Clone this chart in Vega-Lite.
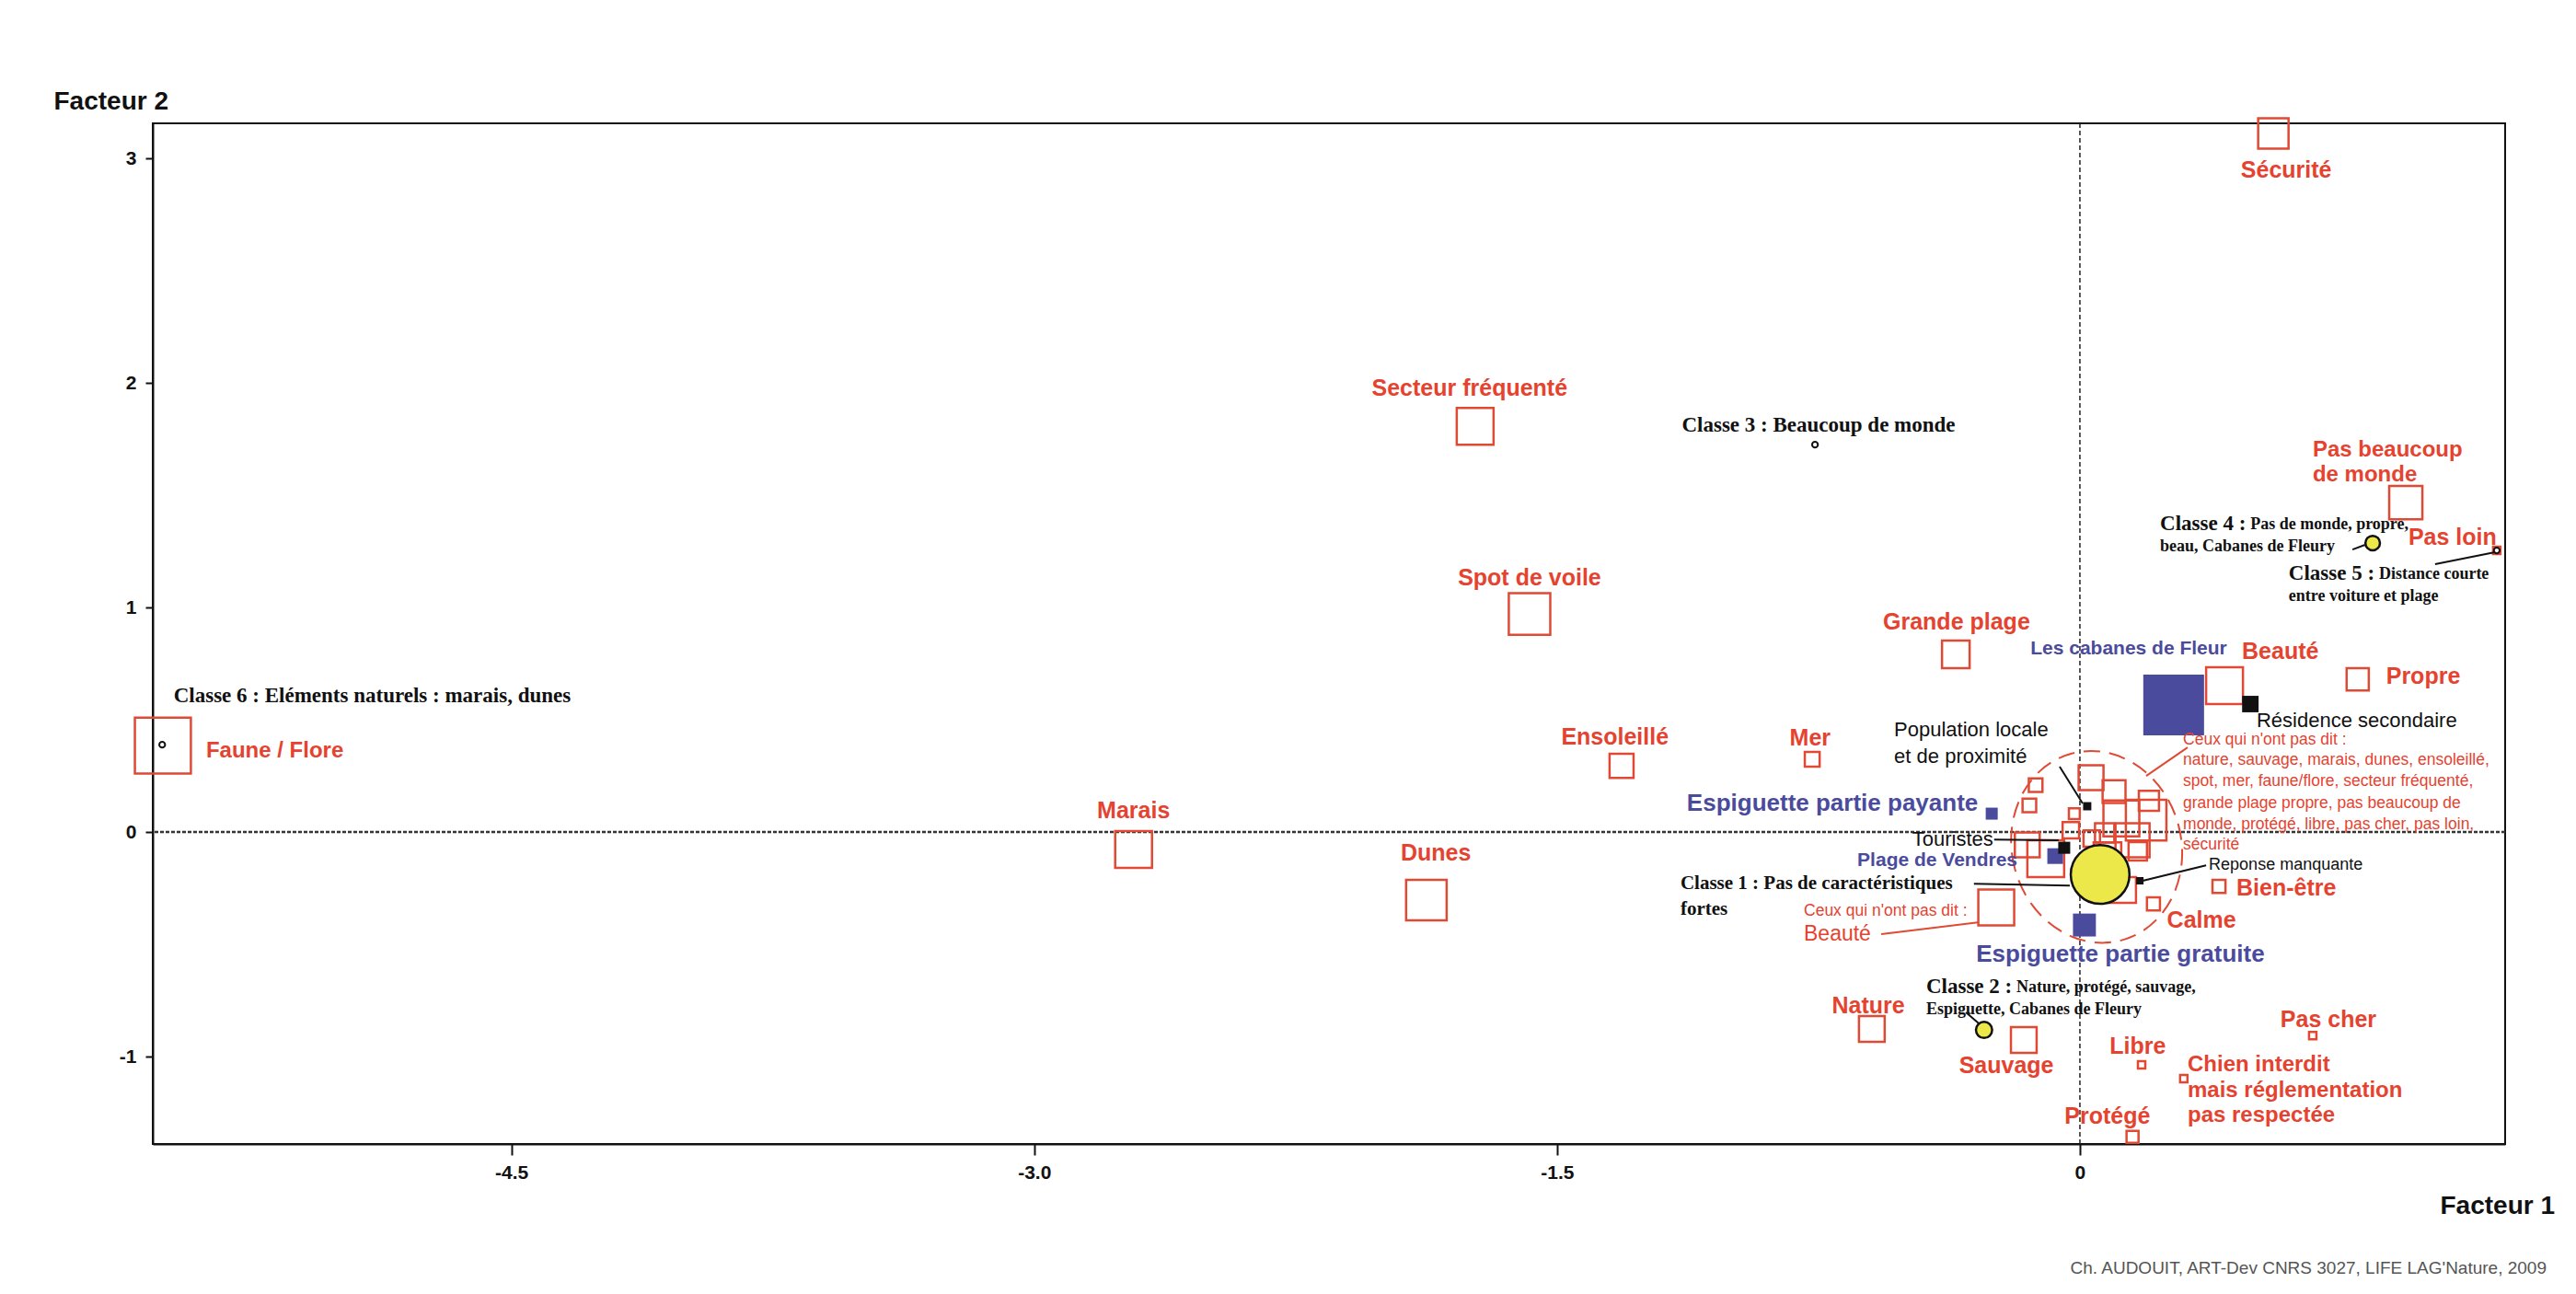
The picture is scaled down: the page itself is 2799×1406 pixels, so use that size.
{
  "$schema": "https://vega.github.io/schema/vega-lite/v6.json",
  "width": 2556,
  "height": 1109,
  "autosize": {"type": "none"},
  "padding": {"left": 166, "top": 134, "right": 77, "bottom": 163},
  "background": "white",
  "title": {"text": "Ch. AUDOUIT, ART-Dev CNRS 3027, LIFE LAG'Nature, 2009", "orient": "bottom", "anchor": "end", "frame": "group", "font": "Liberation Sans", "fontSize": 19, "fontWeight": "normal", "color": "#555555", "dx": 45, "offset": 45},
  "config": {
    "view": {"stroke": "#111111", "strokeWidth": 2},
    "axis": {"grid": false, "domainColor": "#111111", "domainWidth": 2, "tickColor": "#111111", "tickWidth": 2, "labelColor": "#111111", "labelFont": "Liberation Sans", "labelFontWeight": "bold", "labelFontSize": 21, "titleColor": "#111111", "titleFont": "Liberation Sans", "titleFontWeight": "bold", "titleFontSize": 28}
  },
  "datasets": {
    "points": [
      {"nom": "Sécurité", "type": "modalite", "x": 0.555, "y": 3.111, "masse": 109},
      {"nom": "Secteur fréquenté", "type": "modalite", "x": -1.735, "y": 1.807, "masse": 160},
      {"nom": "Spot de voile", "type": "modalite", "x": -1.579, "y": 0.971, "masse": 203},
      {"nom": "Grande plage", "type": "modalite", "x": -0.356, "y": 0.791, "masse": 90},
      {"nom": "Faune / Flore", "type": "modalite", "x": -5.5, "y": 0.385, "masse": 370},
      {"nom": "Ensoleillé", "type": "modalite", "x": -1.315, "y": 0.295, "masse": 68},
      {"nom": "Mer", "type": "modalite", "x": -0.768, "y": 0.324, "masse": 26},
      {"nom": "Marais", "type": "modalite", "x": -2.715, "y": -0.078, "masse": 160},
      {"nom": "Dunes", "type": "modalite", "x": -1.875, "y": -0.303, "masse": 194},
      {"nom": "Beauté", "type": "modalite", "x": 0.415, "y": 0.652, "masse": 160},
      {"nom": "Propre", "type": "modalite", "x": 0.797, "y": 0.68, "masse": 58},
      {"nom": "Pas beaucoup de monde", "type": "modalite", "x": 0.935, "y": 1.467, "masse": 130},
      {"nom": "Pas loin", "type": "modalite", "x": 1.196, "y": 1.254, "masse": 6.4},
      {"nom": "Bien-être", "type": "modalite", "x": 0.399, "y": -0.242, "masse": 20},
      {"nom": "Calme", "type": "modalite", "x": 0.211, "y": -0.32, "masse": 20},
      {"nom": "Nature", "type": "modalite", "x": -0.597, "y": -0.877, "masse": 78},
      {"nom": "Sauvage", "type": "modalite", "x": -0.161, "y": -0.926, "masse": 78},
      {"nom": "Libre", "type": "modalite", "x": 0.177, "y": -1.037, "masse": 6.4},
      {"nom": "Pas cher", "type": "modalite", "x": 0.668, "y": -0.906, "masse": 6.4},
      {"nom": "Chien interdit mais réglementation pas respectée", "type": "modalite", "x": 0.298, "y": -1.098, "masse": 6.4},
      {"nom": "Protégé", "type": "modalite", "x": 0.151, "y": -1.357, "masse": 17},
      {"nom": "Non dit : beauté", "type": "modalite", "x": -0.24, "y": -0.336, "masse": 152},
      {"nom": "Non dit : nature", "type": "modalite", "x": 0.032, "y": 0.242, "masse": 73},
      {"nom": "Non dit : sauvage", "type": "modalite", "x": 0.098, "y": 0.18, "masse": 62},
      {"nom": "Non dit : marais", "type": "modalite", "x": 0.119, "y": 0.061, "masse": 152},
      {"nom": "Non dit : dunes", "type": "modalite", "x": 0.19, "y": 0.053, "masse": 194},
      {"nom": "Non dit : ensoleillé", "type": "modalite", "x": 0.151, "y": -0.037, "masse": 137},
      {"nom": "Non dit : spot", "type": "modalite", "x": 0.166, "y": -0.086, "masse": 40},
      {"nom": "Non dit : mer", "type": "modalite", "x": 0.071, "y": -0.004, "masse": 44},
      {"nom": "Non dit : faune/flore", "type": "modalite", "x": -0.016, "y": 0.082, "masse": 14},
      {"nom": "Non dit : secteur fréquenté", "type": "modalite", "x": -0.145, "y": 0.119, "masse": 22},
      {"nom": "Non dit : grande plage", "type": "modalite", "x": -0.127, "y": 0.209, "masse": 22},
      {"nom": "Non dit : propre", "type": "modalite", "x": -0.151, "y": -0.057, "masse": 73},
      {"nom": "Non dit : pas beaucoup de monde", "type": "modalite", "x": -0.098, "y": -0.119, "masse": 160},
      {"nom": "Non dit : protégé", "type": "modalite", "x": -0.026, "y": 0.008, "masse": 32},
      {"nom": "Non dit : libre", "type": "modalite", "x": 0.124, "y": -0.258, "masse": 78},
      {"nom": "Non dit : pas cher", "type": "modalite", "x": 0.034, "y": -0.029, "masse": 32},
      {"nom": "Non dit : pas loin", "type": "modalite", "x": 0.079, "y": -0.107, "masse": 90},
      {"nom": "Non dit : sécurité", "type": "modalite", "x": 0.198, "y": 0.139, "masse": 48},
      {"nom": "Les cabanes de Fleury", "type": "site", "x": 0.269, "y": 0.566, "masse": 436},
      {"nom": "Espiguette partie payante", "type": "site", "x": -0.253, "y": 0.082, "masse": 17},
      {"nom": "Plage de Vendres", "type": "site", "x": -0.071, "y": -0.107, "masse": 29},
      {"nom": "Espiguette partie gratuite", "type": "site", "x": 0.013, "y": -0.414, "masse": 62},
      {"nom": "Résidence secondaire", "type": "profil", "x": 0.489, "y": 0.57, "masse": 32},
      {"nom": "Population locale et de proximité", "type": "profil", "x": 0.021, "y": 0.115, "masse": 8},
      {"nom": "Touristes", "type": "profil", "x": -0.045, "y": -0.07, "masse": 17},
      {"nom": "Réponse manquante", "type": "profil", "x": 0.172, "y": -0.217, "masse": 6.4},
      {"nom": "Classe 1", "type": "classe", "x": 0.058, "y": -0.189, "masse": 407},
      {"nom": "Classe 2", "type": "classe", "x": -0.275, "y": -0.881, "masse": 31},
      {"nom": "Classe 4", "type": "classe", "x": 0.84, "y": 1.287, "masse": 25},
      {"nom": "Classe 3", "type": "petite_classe", "x": -0.76, "y": 1.725, "masse": 4},
      {"nom": "Classe 5", "type": "petite_classe", "x": 1.196, "y": 1.254, "masse": 4},
      {"nom": "Classe 6", "type": "petite_classe", "x": -5.502, "y": 0.389, "masse": 4}
    ],
    "ellipse": [{"nom": "Groupe des non-réponses", "x": 0.048, "y": -0.066}],
    "renvois": [
      {"couleur": "noir", "x": -0.304, "y": -0.23, "x2": -0.029, "y2": -0.238},
      {"couleur": "noir", "x": -0.246, "y": -0.033, "x2": -0.061, "y2": -0.037},
      {"couleur": "noir", "x": -0.058, "y": 0.291, "x2": 0.008, "y2": 0.127},
      {"couleur": "noir", "x": 0.18, "y": -0.217, "x2": 0.362, "y2": -0.148},
      {"couleur": "noir", "x": 1.019, "y": 1.193, "x2": 1.191, "y2": 1.246},
      {"couleur": "noir", "x": 0.782, "y": 1.258, "x2": 0.818, "y2": 1.279},
      {"couleur": "noir", "x": -0.327, "y": -0.803, "x2": -0.29, "y2": -0.852},
      {"couleur": "rouge", "x": -0.57, "y": -0.455, "x2": -0.293, "y2": -0.402},
      {"couleur": "rouge", "x": 0.19, "y": 0.25, "x2": 0.309, "y2": 0.377}
    ],
    "etiquettes": [
      {"style": "rouge_c", "texte": "Sécurité", "x": 0.592, "y": 2.947},
      {"style": "rouge_c", "texte": "Secteur fréquenté", "x": -1.751, "y": 1.975},
      {"style": "rouge_c", "texte": "Spot de voile", "x": -1.579, "y": 1.131},
      {"style": "rouge_c", "texte": "Grande plage", "x": -0.354, "y": 0.934},
      {"style": "rouge_c", "texte": "Ensoleillé", "x": -1.334, "y": 0.422},
      {"style": "rouge_c", "texte": "Mer", "x": -0.774, "y": 0.418},
      {"style": "rouge_c", "texte": "Marais", "x": -2.715, "y": 0.094},
      {"style": "rouge_c", "texte": "Dunes", "x": -1.848, "y": -0.094},
      {"style": "rouge_c", "texte": "Beauté", "x": 0.575, "y": 0.803},
      {"style": "rouge_c", "texte": "Propre", "x": 0.985, "y": 0.693},
      {"style": "rouge_c", "texte": "Pas loin", "x": 1.069, "y": 1.311},
      {"style": "rouge_c", "texte": "Bien-être", "x": 0.592, "y": -0.25},
      {"style": "rouge_c", "texte": "Calme", "x": 0.349, "y": -0.393},
      {"style": "rouge_c", "texte": "Nature", "x": -0.607, "y": -0.775},
      {"style": "rouge_c", "texte": "Sauvage", "x": -0.211, "y": -1.041},
      {"style": "rouge_c", "texte": "Libre", "x": 0.166, "y": -0.955},
      {"style": "rouge_c", "texte": "Pas cher", "x": 0.713, "y": -0.836},
      {"style": "rouge_c", "texte": "Protégé", "x": 0.079, "y": -1.266},
      {"style": "rouge_g", "texte": "Faune / Flore", "x": -5.376, "y": 0.361},
      {"style": "rouge_g", "texte": "Pas beaucoup", "x": 0.668, "y": 1.701},
      {"style": "rouge_g", "texte": "de monde", "x": 0.668, "y": 1.59},
      {"style": "rouge_g", "texte": "Chien interdit", "x": 0.309, "y": -1.037},
      {"style": "rouge_g", "texte": "mais réglementation", "x": 0.309, "y": -1.152},
      {"style": "rouge_g", "texte": "pas respectée", "x": 0.309, "y": -1.262},
      {"style": "bleu_p", "texte": "Les cabanes de Fleur", "x": 0.14, "y": 0.816},
      {"style": "bleu_c", "texte": "Espiguette partie payante", "x": -0.71, "y": 0.127},
      {"style": "bleu_p", "texte": "Plage de Vendres", "x": -0.409, "y": -0.127},
      {"style": "bleu_c", "texte": "Espiguette partie gratuite", "x": 0.116, "y": -0.545},
      {"style": "noir_g", "texte": "Population locale", "x": -0.533, "y": 0.455},
      {"style": "noir_g", "texte": "et de proximité", "x": -0.533, "y": 0.336},
      {"style": "noir_g", "texte": "Touristes", "x": -0.481, "y": -0.033},
      {"style": "noir_g", "texte": "Résidence secondaire", "x": 0.507, "y": 0.496},
      {"style": "noir_etroit", "texte": "Reponse manquante", "x": 0.37, "y": -0.148},
      {"style": "classe_g", "texte": "Classe 3 : Beaucoup de monde", "x": -1.142, "y": 1.811},
      {"style": "classe_g", "texte": "Classe 6 : Eléments naturels : marais, dunes", "x": -5.469, "y": 0.607},
      {"style": "classe_m", "texte": "Classe 1 : Pas de caractéristiques", "x": -1.146, "y": -0.23},
      {"style": "classe_m", "texte": "fortes", "x": -1.146, "y": -0.344},
      {"style": "classe_g", "texte": "Classe 4 :", "x": 0.23, "y": 1.373},
      {"style": "classe_g", "texte": "Classe 5 :", "x": 0.599, "y": 1.152},
      {"style": "classe_g", "texte": "Classe 2 :", "x": -0.441, "y": -0.689},
      {"style": "classe_p", "texte": "Pas de monde, propre,", "x": 0.489, "y": 1.369},
      {"style": "classe_p", "texte": "beau, Cabanes de Fleury", "x": 0.23, "y": 1.27},
      {"style": "classe_p", "texte": "Distance courte", "x": 0.858, "y": 1.148},
      {"style": "classe_p", "texte": "entre voiture et plage", "x": 0.599, "y": 1.049},
      {"style": "classe_p", "texte": "Nature, protégé, sauvage,", "x": -0.182, "y": -0.693},
      {"style": "classe_p", "texte": "Espiguette, Cabanes de Fleury", "x": -0.441, "y": -0.791},
      {"style": "nr", "texte": "Ceux qui n'ont pas dit :", "x": 0.296, "y": 0.41},
      {"style": "nr", "texte": "nature, sauvage, marais, dunes, ensoleillé,", "x": 0.296, "y": 0.32},
      {"style": "nr", "texte": "spot, mer, faune/flore, secteur fréquenté,", "x": 0.296, "y": 0.225},
      {"style": "nr", "texte": "grande plage propre, pas beaucoup de", "x": 0.296, "y": 0.127},
      {"style": "nr", "texte": "monde, protégé, libre, pas cher, pas loin,", "x": 0.296, "y": 0.033},
      {"style": "nr", "texte": "sécurité", "x": 0.296, "y": -0.057},
      {"style": "nr", "texte": "Ceux qui n'ont pas dit :", "x": -0.792, "y": -0.352},
      {"style": "nr_b", "texte": "Beauté", "x": -0.792, "y": -0.455}
    ]
  },
  "layer": [
    {
      "data": {"values": [{}]},
      "mark": {"type": "rule", "stroke": "#222222", "strokeWidth": 1.5, "strokeDash": [5, 3]},
      "encoding": {
        "x": {"datum": 0, "type": "quantitative", "scale": {"domain": [-5.529, 1.22], "nice": false, "zero": false},
          "axis": {"title": "Facteur 1", "values": [-4.5, -3, -1.5, 0], "labelExpr": "datum.value === 0 ? '0' : '-' + format(abs(datum.value), '.1f')", "tickSize": 12, "labelPadding": 8, "titleX": 2485, "titleY": 67, "titleAlign": "left", "titleBaseline": "middle", "titleAnchor": null}}
      }
    },
    {
      "data": {"values": [{}]},
      "mark": {"type": "rule", "stroke": "#333333", "strokeWidth": 2.5, "strokeDash": [4, 2]},
      "encoding": {
        "y": {"datum": 0, "type": "quantitative", "scale": {"domain": [-1.389, 3.156], "nice": false, "zero": false},
          "axis": {"title": "Facteur 2", "values": [-1, 0, 1, 2, 3], "labelExpr": "datum.value < 0 ? '-' + format(abs(datum.value), 'd') : format(datum.value, 'd')", "tickSize": 8, "labelPadding": 10, "titleAngle": 0, "titleX": -108, "titleY": -24, "titleAlign": "left", "titleBaseline": "middle", "titleAnchor": null}}
      }
    },
    {
      "data": {"name": "points"},
      "transform": [{"filter": "datum.type === 'modalite'"}],
      "mark": {"type": "point", "shape": "square", "filled": false, "stroke": "#E04A35", "strokeWidth": 2.5, "opacity": 1},
      "encoding": {
        "x": {"field": "x", "type": "quantitative"},
        "y": {"field": "y", "type": "quantitative"},
        "size": {"field": "masse", "type": "quantitative", "scale": {"type": "linear", "domain": [0, 500], "range": [0, 5000]}, "legend": null}
      }
    },
    {
      "data": {"name": "ellipse"},
      "mark": {"type": "point", "shape": "M -0.876 0 C -0.876 -0.552 -0.484 -1 0 -1 C 0.484 -1 0.876 -0.552 0.876 0 C 0.876 0.552 0.484 1 0 1 C -0.484 1 -0.876 0.552 -0.876 0 Z", "filled": false, "stroke": "#E04A35", "strokeWidth": 2, "strokeDash": [18, 10], "size": 44100, "angle": 345, "opacity": 1},
      "encoding": {
        "x": {"field": "x", "type": "quantitative"},
        "y": {"field": "y", "type": "quantitative"}
      }
    },
    {
      "data": {"name": "points"},
      "transform": [{"filter": "datum.type === 'site'"}],
      "mark": {"type": "point", "shape": "square", "filled": true, "fill": "#4B4B9D", "opacity": 1},
      "encoding": {
        "x": {"field": "x", "type": "quantitative"},
        "y": {"field": "y", "type": "quantitative"},
        "size": {"field": "masse", "type": "quantitative", "legend": null}
      }
    },
    {
      "data": {"name": "points"},
      "transform": [{"filter": "datum.type === 'profil'"}],
      "mark": {"type": "point", "shape": "square", "filled": true, "fill": "#111111", "opacity": 1},
      "encoding": {
        "x": {"field": "x", "type": "quantitative"},
        "y": {"field": "y", "type": "quantitative"},
        "size": {"field": "masse", "type": "quantitative", "legend": null}
      }
    },
    {
      "data": {"name": "points"},
      "transform": [{"filter": "datum.type === 'classe'"}],
      "mark": {"type": "point", "shape": "circle", "filled": true, "fill": "#EDE84A", "stroke": "#111111", "strokeWidth": 2.5, "opacity": 1},
      "encoding": {
        "x": {"field": "x", "type": "quantitative"},
        "y": {"field": "y", "type": "quantitative"},
        "size": {"field": "masse", "type": "quantitative", "legend": null}
      }
    },
    {
      "data": {"name": "points"},
      "transform": [{"filter": "datum.type === 'petite_classe'"}],
      "mark": {"type": "point", "shape": "circle", "filled": true, "fill": "#ffffff", "stroke": "#111111", "strokeWidth": 2, "opacity": 1},
      "encoding": {
        "x": {"field": "x", "type": "quantitative"},
        "y": {"field": "y", "type": "quantitative"},
        "size": {"field": "masse", "type": "quantitative", "legend": null}
      }
    },
    {
      "data": {"name": "renvois"},
      "transform": [{"filter": "datum.couleur === 'noir'"}],
      "mark": {"type": "rule", "stroke": "#111111", "strokeWidth": 2},
      "encoding": {
        "x": {"field": "x", "type": "quantitative"},
        "y": {"field": "y", "type": "quantitative"},
        "x2": {"field": "x2"},
        "y2": {"field": "y2"}
      }
    },
    {
      "data": {"name": "renvois"},
      "transform": [{"filter": "datum.couleur === 'rouge'"}],
      "mark": {"type": "rule", "stroke": "#E04A35", "strokeWidth": 2},
      "encoding": {
        "x": {"field": "x", "type": "quantitative"},
        "y": {"field": "y", "type": "quantitative"},
        "x2": {"field": "x2"},
        "y2": {"field": "y2"}
      }
    },
    {
      "data": {"name": "etiquettes"},
      "transform": [{"filter": "datum.style === 'rouge_c'"}],
      "mark": {"type": "text", "font": "Liberation Sans", "fontWeight": "bold", "fontSize": 25, "fill": "#E5432F", "align": "center", "baseline": "middle"},
      "encoding": {"x": {"field": "x", "type": "quantitative"}, "y": {"field": "y", "type": "quantitative"}, "text": {"field": "texte"}}
    },
    {
      "data": {"name": "etiquettes"},
      "transform": [{"filter": "datum.style === 'rouge_g'"}],
      "mark": {"type": "text", "font": "Liberation Sans", "fontWeight": "bold", "fontSize": 24, "fill": "#E5432F", "align": "left", "baseline": "middle"},
      "encoding": {"x": {"field": "x", "type": "quantitative"}, "y": {"field": "y", "type": "quantitative"}, "text": {"field": "texte"}}
    },
    {
      "data": {"name": "etiquettes"},
      "transform": [{"filter": "datum.style === 'bleu_c'"}],
      "mark": {"type": "text", "font": "Liberation Sans", "fontWeight": "bold", "fontSize": 26, "fill": "#4B4B9D", "align": "center", "baseline": "middle"},
      "encoding": {"x": {"field": "x", "type": "quantitative"}, "y": {"field": "y", "type": "quantitative"}, "text": {"field": "texte"}}
    },
    {
      "data": {"name": "etiquettes"},
      "transform": [{"filter": "datum.style === 'bleu_p'"}],
      "mark": {"type": "text", "font": "Liberation Sans", "fontWeight": "bold", "fontSize": 21, "fill": "#4B4B9D", "align": "center", "baseline": "middle"},
      "encoding": {"x": {"field": "x", "type": "quantitative"}, "y": {"field": "y", "type": "quantitative"}, "text": {"field": "texte"}}
    },
    {
      "data": {"name": "etiquettes"},
      "transform": [{"filter": "datum.style === 'noir_g'"}],
      "mark": {"type": "text", "font": "Liberation Sans", "fontSize": 22, "fill": "#111111", "align": "left", "baseline": "middle"},
      "encoding": {"x": {"field": "x", "type": "quantitative"}, "y": {"field": "y", "type": "quantitative"}, "text": {"field": "texte"}}
    },
    {
      "data": {"name": "etiquettes"},
      "transform": [{"filter": "datum.style === 'noir_etroit'"}],
      "mark": {"type": "text", "font": "Liberation Sans", "fontSize": 18, "fill": "#111111", "align": "left", "baseline": "middle"},
      "encoding": {"x": {"field": "x", "type": "quantitative"}, "y": {"field": "y", "type": "quantitative"}, "text": {"field": "texte"}}
    },
    {
      "data": {"name": "etiquettes"},
      "transform": [{"filter": "datum.style === 'classe_g'"}],
      "mark": {"type": "text", "font": "Liberation Serif", "fontWeight": "bold", "fontSize": 23, "fill": "#111111", "align": "left", "baseline": "middle"},
      "encoding": {"x": {"field": "x", "type": "quantitative"}, "y": {"field": "y", "type": "quantitative"}, "text": {"field": "texte"}}
    },
    {
      "data": {"name": "etiquettes"},
      "transform": [{"filter": "datum.style === 'classe_m'"}],
      "mark": {"type": "text", "font": "Liberation Serif", "fontWeight": "bold", "fontSize": 21, "fill": "#111111", "align": "left", "baseline": "middle"},
      "encoding": {"x": {"field": "x", "type": "quantitative"}, "y": {"field": "y", "type": "quantitative"}, "text": {"field": "texte"}}
    },
    {
      "data": {"name": "etiquettes"},
      "transform": [{"filter": "datum.style === 'classe_p'"}],
      "mark": {"type": "text", "font": "Liberation Serif", "fontWeight": "bold", "fontSize": 18, "fill": "#111111", "align": "left", "baseline": "middle"},
      "encoding": {"x": {"field": "x", "type": "quantitative"}, "y": {"field": "y", "type": "quantitative"}, "text": {"field": "texte"}}
    },
    {
      "data": {"name": "etiquettes"},
      "transform": [{"filter": "datum.style === 'nr'"}],
      "mark": {"type": "text", "font": "Liberation Sans", "fontSize": 17.5, "fill": "#E5432F", "align": "left", "baseline": "middle"},
      "encoding": {"x": {"field": "x", "type": "quantitative"}, "y": {"field": "y", "type": "quantitative"}, "text": {"field": "texte"}}
    },
    {
      "data": {"name": "etiquettes"},
      "transform": [{"filter": "datum.style === 'nr_b'"}],
      "mark": {"type": "text", "font": "Liberation Sans", "fontSize": 23, "fill": "#E5432F", "align": "left", "baseline": "middle"},
      "encoding": {"x": {"field": "x", "type": "quantitative"}, "y": {"field": "y", "type": "quantitative"}, "text": {"field": "texte"}}
    }
  ]
}
